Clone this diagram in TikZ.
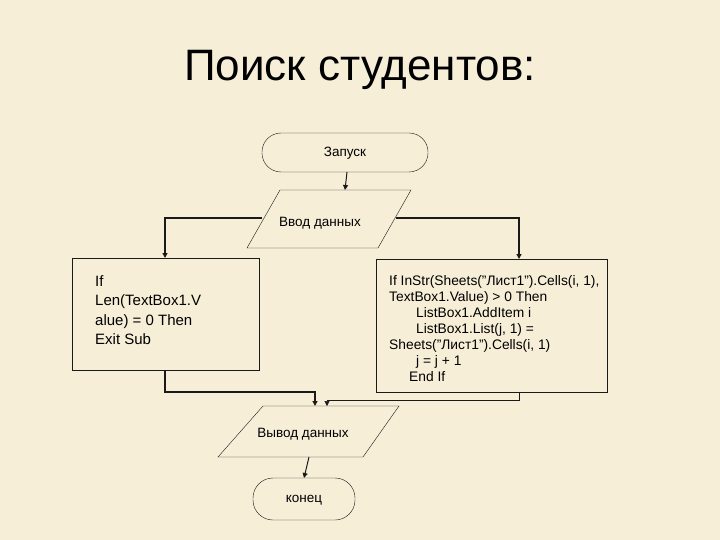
\documentclass[tikz,border=0pt]{standalone}
\usepackage{fontspec}
\setmainfont{Liberation Sans}
\usetikzlibrary{shapes.geometric,arrows.meta}
\definecolor{bg}{HTML}{F7EED8}
\definecolor{ln}{HTML}{1A1A1A}
\newcommand{\dq}{\symbol{34}}
\tikzset{
  x=1pt,y=-1pt,
  term/.style={draw=ln,rounded corners=19pt,fill=bg},
  io/.style={draw=ln,fill=bg},
  lbl/.style={font=\fontsize{13.5}{15}\selectfont},
  conn/.style={draw=ln,line width=1.3pt,-{Triangle[length=5pt,width=5pt]}},
  thin/.style={draw=ln,line width=0.6pt,-{Triangle[length=5pt,width=5pt]}}
}
\begin{document}
\begin{tikzpicture}
\fill[bg] (0,0) rectangle (720,540);
\useasboundingbox (0,0) rectangle (720,540);
\node (title) at (360,70) {\fontsize{44}{48}\selectfont Поиск студентов:};
\draw[term] (262,133) rectangle (428,172);
\node[lbl] (start) at (345,153) {Запуск};
\coordinate (startb) at (347,172);
\draw[io] (280,190) -- (411,190) -- (378,248) -- (247,248) -- cycle;
\node[lbl] (in) at (320,223) {Ввод данных};
\coordinate (inT) at (345,190);
\coordinate (inL) at (262,218);
\coordinate (inR) at (396,218);
% left box
\draw[draw=ln,fill=bg] (72,258) rectangle (259,370);
\node[font=\fontsize{15}{19.5}\selectfont,align=left,anchor=north west,inner sep=0pt] (lb) at (95,275) {If\\Len(TextBox1.V\\alue) = 0 Then\\Exit Sub};
\coordinate (lbT) at (165,258);
\coordinate (lbB) at (165,370);
% right box
\draw[draw=ln,fill=bg] (376,259) rectangle (607,392);
\node[font=\fontsize{13.8}{16}\selectfont,align=left,anchor=north west,inner sep=0pt] (rb) at (389,275) {If InStr(Sheets(\dq Лист1\dq).Cells(i, 1),\\TextBox1.Value) > 0 Then\\\hspace*{27pt}ListBox1.AddItem i\\\hspace*{27pt}ListBox1.List(j, 1) =\\Sheets(\dq Лист1\dq).Cells(i, 1)\\\hspace*{27pt}j = j + 1\\\hspace*{20pt}End If};
\coordinate (rbT) at (519,259);
\coordinate (rbB) at (519,392);
% output
\draw[io] (263,406) -- (399,406) -- (363,457) -- (218,457) -- cycle;
\node[lbl] (out) at (303,434) {Вывод данных};
\coordinate (outT1) at (315,406);
\coordinate (outT2) at (327,406);
\coordinate (outB) at (309,457);
\draw[term,rounded corners=20pt] (253,478) rectangle (355,520);
\node[lbl] (end) at (304,500) {конец};
\coordinate (endT) at (304,478);
% connectors
\draw[conn,line width=1pt] (startb) -- (inT);
\draw[conn] (inL) -| (lbT);
\draw[conn] (inR) -| (rbT);
\draw[conn] (lbB) |- (315,392) -- (outT1);
\draw[thin] (rbB) |- (327,400) -- (outT2);
\draw[conn,line width=1pt] (outB) -- (endT);
\end{tikzpicture}
\end{document}
